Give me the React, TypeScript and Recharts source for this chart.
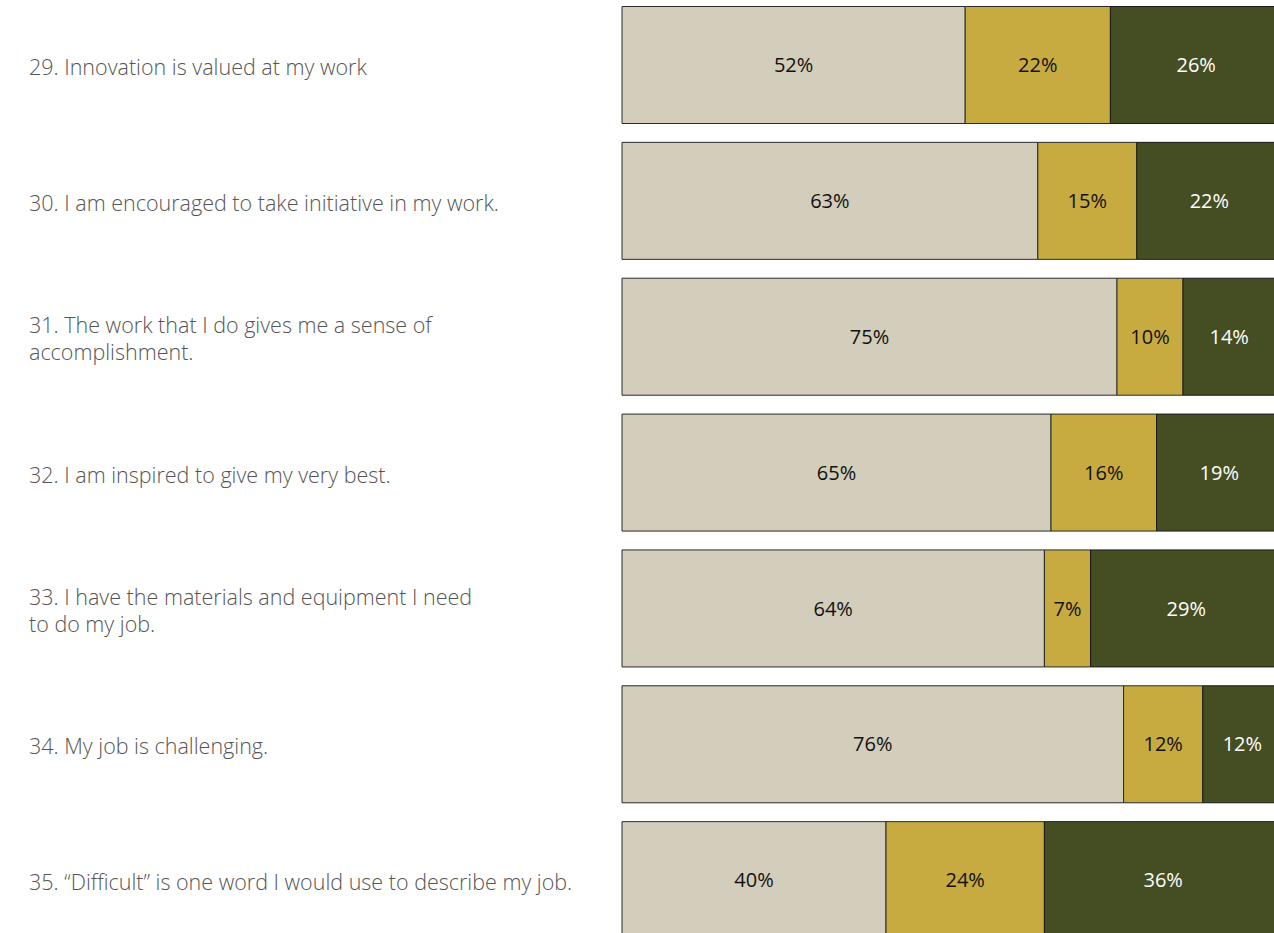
import React from "react";
import { Bar, BarChart, LabelList, XAxis, YAxis } from "recharts";

const statements = [
  "29. Innovation is valued at my work",
  "30. I am encouraged to take initiative in my work.",
  "31. The work that I do gives me a sense of\naccomplishment.",
  "32. I am inspired to give my very best.",
  "33. I have the materials and equipment I need\nto do my job.",
  "34. My job is challenging.",
  "35. \u201cDifficult\u201d is one word I would use to describe my job.",
];
const agree = [52, 63, 75, 65, 64, 76, 40];
const neutral = [22, 15, 10, 16, 7, 12, 24];
const disagree = [26, 22, 14, 19, 29, 12, 36];

const rows = statements.map((s, i) => ({
  statement: s,
  agree: agree[i],
  neutral: neutral[i],
  disagree: disagree[i],
}));

const pct = (v: any) => `${v}%`;

function StatementTick(props: any) {
  const { y, payload } = props;
  const lines = String(payload.value).split("\n");
  const lh = 27;
  const y0 = y - ((lines.length - 1) * lh) / 2 + 1;
  return (
    <text
      x={29}
      y={y0}
      textAnchor="start"
      dominantBaseline="central"
      style={{ fontSize: 21.5, fontWeight: 300, fontFamily: "'Open Sans', sans-serif", fill: "#555" }}
    >
      {lines.map((l: string, i: number) => (
        <tspan key={i} x={29} y={y0 + i * lh}>
          {l}
        </tspan>
      ))}
    </text>
  );
}

const valueFont = { fontSize: 20, fontFamily: "'Open Sans', sans-serif" };

export default function App() {
  return (
    <div style={{ position: "absolute", left: 0, top: 0, width: 1274, height: 933, overflow: "hidden", background: "#fff" }}>
      <div style={{ position: "absolute", left: 0, top: -3 }}>
        <BarChart
          width={1282}
          height={951}
          data={rows}
          layout="vertical"
          margin={{ top: 0, right: 0, bottom: 0, left: 0 }}
          barCategoryGap={9.5}
        >
          <XAxis type="number" domain={[0, 100]} hide />
          <YAxis
            type="category"
            dataKey="statement"
            width={622}
            axisLine={false}
            tickLine={false}
            tick={<StatementTick />}
            interval={0}
          />
          <Bar dataKey="agree" stackId="a" fill="#D3CDBB" stroke="#2a2a2a" strokeWidth={1} isAnimationActive={false}>
            <LabelList dataKey="agree" position="center" formatter={pct} fill="#111" style={valueFont} />
          </Bar>
          <Bar dataKey="neutral" stackId="a" fill="#C8AB40" stroke="#2a2a2a" strokeWidth={1} isAnimationActive={false}>
            <LabelList dataKey="neutral" position="center" formatter={pct} fill="#111" style={valueFont} />
          </Bar>
          <Bar dataKey="disagree" stackId="a" fill="#454D23" stroke="#1a1a1a" strokeWidth={1} isAnimationActive={false}>
            <LabelList dataKey="disagree" position="center" formatter={pct} fill="#fff" style={valueFont} />
          </Bar>
        </BarChart>
      </div>
    </div>
  );
}
